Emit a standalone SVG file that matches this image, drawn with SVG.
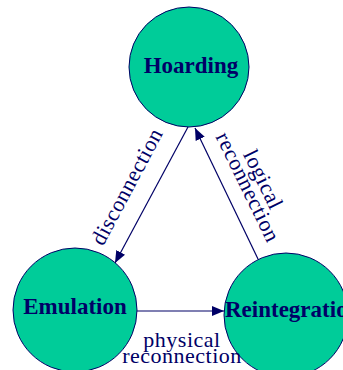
<svg xmlns="http://www.w3.org/2000/svg" width="343" height="370" viewBox="0 0 343 370">
  <style>
    .state { fill: #00CC99; stroke: #000066; stroke-width: 1; }
    .name { font-family: "Liberation Serif", "DejaVu Serif", serif; font-weight: bold; font-size: 23px; fill: #000066; }
    .edge { stroke: #000066; stroke-width: 1.2; fill: none; marker-end: url(#arrow); }
    .label { font-family: "Liberation Serif", "DejaVu Serif", serif; font-size: 22px; fill: #000066; text-anchor: middle; }
  </style>
  <defs>
    <marker id="arrow" markerUnits="userSpaceOnUse" viewBox="0 0 12 10" refX="12" refY="5" markerWidth="12" markerHeight="10" orient="auto">
      <path d="M0,0 L12,5 L0,10 Z" fill="#000066"/>
    </marker>
  </defs>
  <rect width="343" height="370" fill="#FFFFFF"/>

  <g id="hoarding">
    <circle class="state" cx="189" cy="67" r="60"/>
    <text class="name" x="191" y="73" text-anchor="middle">Hoarding</text>
  </g>
  <g id="emulation">
    <circle class="state" cx="75" cy="310" r="62"/>
    <text class="name" x="75" y="314" text-anchor="middle">Emulation</text>
  </g>
  <g id="reintegration">
    <circle class="state" cx="286" cy="315" r="62"/>
    <text class="name" x="225" y="317">Reintegration</text>
  </g>

  <g id="connectors">
    <line class="edge" x1="188" y1="127" x2="115" y2="263"/>
    <line class="edge" x1="258" y1="259" x2="195" y2="128"/>
    <line class="edge" x1="137" y1="311" x2="224" y2="311"/>
    <text class="label" transform="translate(128,187) rotate(-62)" y="6" letter-spacing="0.5">disconnection</text>
    <g transform="translate(254,184) rotate(64)">
      <text class="label" y="-3" letter-spacing="0.5">logical</text>
      <text class="label" y="14" letter-spacing="0.5">reconnection</text>
    </g>
    <text class="label" x="182" y="347" letter-spacing="0.5">physical</text>
    <text class="label" x="182" y="363" letter-spacing="0.5">reconnection</text>
  </g>
</svg>
